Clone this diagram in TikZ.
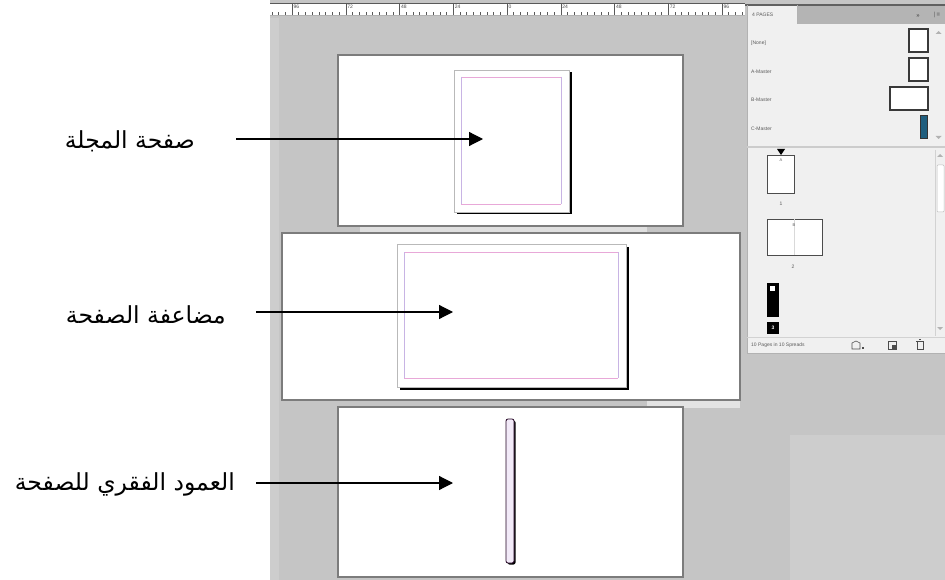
\documentclass[tikz,border=0pt]{standalone}
\usepackage{fontspec}
\newfontfamily\arabicfont[Script=Arabic]{DejaVu Sans}
\newfontfamily\uifont{Liberation Sans}
\TeXXeTstate=1
\usetikzlibrary{arrows.meta}
\definecolor{bggray}{HTML}{C5C5C5}
\definecolor{bglight}{HTML}{CDCDCD}
\definecolor{framegray}{HTML}{7C7C7C}
\definecolor{panelbg}{HTML}{F0F0F0}
\definecolor{panelhead}{HTML}{B4B4B4}
\definecolor{uitext}{HTML}{5A5A5A}
\definecolor{marginpink}{HTML}{E8A8D8}
\definecolor{marginviolet}{HTML}{C8B4E4}
\definecolor{spinefill}{HTML}{F2EAF8}
\definecolor{masterteal}{HTML}{1F5E7E}
\tikzset{
  spreadbox/.style={fill=white,draw=framegray,line width=1.4pt},
  pagebox/.style={fill=white,draw=gray!55,line width=0.6pt},
  shadowbox/.style={fill=black},
  arlabel/.style={font=\arabicfont\fontsize{23.5}{27}\selectfont,inner sep=0pt,anchor=east,text=black},
  pointer/.style={line width=1.2pt,-{Triangle[length=14pt,width=14pt]}},
  uilabel/.style={font=\uifont\fontsize{5}{6}\selectfont,text=uitext,inner sep=0pt},
  iconbox/.style={fill=white,draw=gray!45!black,line width=1.1pt},
  rulernum/.style={font=\uifont\fontsize{5}{6}\selectfont,text=gray!60!black,inner sep=0pt,anchor=north west},
}
\begin{document}
\begin{tikzpicture}[x=1pt,y=-1pt]
\useasboundingbox (0,0) rectangle (945,580);
\fill[white] (0,0) rectangle (945,580);
% work area
\fill[bggray] (270,0) rectangle (945,580);
\fill[bglight] (270,18) rectangle (279,580);
\fill[bglight] (790,435) rectangle (945,580);
% ruler
\fill[white] (270,3) rectangle (745,15);
\draw[gray!70!black,line width=0.6pt] (270,3) -- (745,3);
\draw[gray!60,line width=0.8pt] (270,15.5) -- (745,15.5);
\foreach \k in {-3,...,67} {
  \pgfmathtruncatemacro\m{mod(\k+24,8)}
  \pgfmathsetmacro\xx{292+\k*6.71875}
  \ifnum\m=0
    \draw[gray!70!black,line width=0.5pt] (\xx,3) -- (\xx,15);
  \else
    \draw[gray!70!black,line width=0.5pt] (\xx,12.5) -- (\xx,15);
  \fi
}
\foreach \v [count=\i from 0] in {96,72,48,24,0,24,48,72,96}
  \node[rulernum] (rn\i) at (293.5+\i*53.75,4.5) {\v};
% spreads
\fill[gray!25] (360,223) rectangle (647,233);
\fill[gray!22] (647,399) rectangle (740,408);
\node[spreadbox,minimum width=345pt,minimum height=171pt,inner sep=0pt] (sp1) at (510.5,140.5) {};
\node[spreadbox,minimum width=458pt,minimum height=167pt,inner sep=0pt] (sp2) at (511,316.5) {};
\node[spreadbox,minimum width=345pt,minimum height=170pt,inner sep=0pt] (sp3) at (510.5,492) {};
% page 1
\fill[shadowbox] (456.5,72.5) rectangle (571.5,214.5);
\node[pagebox,minimum width=115pt,minimum height=142pt,inner sep=0pt] (pg1) at (511.5,141) {};
\draw[marginpink,line width=0.7pt] (461,77) -- (561,77) (461,204) -- (561,204);
\draw[marginviolet,line width=0.7pt] (461,77) -- (461,204) (561,77) -- (561,204);
% page 2
\fill[shadowbox] (399.5,246.5) rectangle (628.5,389.5);
\node[pagebox,minimum width=229pt,minimum height=143pt,inner sep=0pt] (pg2) at (511.5,315.5) {};
\draw[marginpink,line width=0.7pt] (404,252) -- (618,252) (404,378) -- (618,378);
\draw[marginviolet,line width=0.7pt] (404,252) -- (404,378) (618,252) -- (618,378);
% spine page
\fill[shadowbox,rounded corners=2pt] (507.5,420.5) rectangle (515.5,564.5);
\node[fill=spinefill,draw=black!75!violet,line width=0.8pt,rounded corners=2pt,minimum width=8pt,minimum height=144pt,inner sep=0pt] (pg3) at (510,491) {};
% labels and pointers
\node[arlabel] (l1) at (195,141) {\beginR صفحة المجلة\endR};
\node[arlabel] (l2) at (226,315) {\beginR مضاعفة الصفحة\endR};
\node[arlabel] (l3) at (235,484) {\beginR العمود الفقري للصفحة\endR};
\coordinate (s1) at (236,139);
\coordinate (t1) at (483,139);
\coordinate (s2) at (256,312);
\coordinate (t2) at (453,312);
\coordinate (s3) at (256,483);
\coordinate (t3) at (453,483);
\draw[pointer] (s1) -- (t1);
\draw[pointer] (s2) -- (t2);
\draw[pointer] (s3) -- (t3);
% pages panel
\fill[panelbg] (747,5) rectangle (945,353);
\fill[panelhead] (797,5) rectangle (945,24);
\draw[gray!75!black,line width=1.5pt] (745,5) -- (945,5);
\draw[gray!60,line width=0.8pt] (747,5) -- (747,353) -- (945,353);
\draw[gray!60,line width=0.5pt] (797,5) -- (797,24);
\node[uilabel,anchor=west] (tab) at (752,15) {4 PAGES};
\node[uilabel,anchor=center,font=\uifont\bfseries\fontsize{6}{7}\selectfont] (dbl) at (918,16) {»};
\node[uilabel,anchor=center,font=\uifont\fontsize{6}{7}\selectfont] (menu) at (937,15) {|\,≡};
\node[uilabel,anchor=west] (m0) at (751,43) {[None]};
\node[uilabel,anchor=west] (m1) at (751,72) {A-Master};
\node[uilabel,anchor=west] (m2) at (751,100) {B-Master};
\node[uilabel,anchor=west] (m3) at (751,129) {C-Master};
\node[iconbox,minimum width=19pt,minimum height=23pt,inner sep=0pt] (i0) at (918.5,40.5) {};
\node[iconbox,minimum width=19pt,minimum height=23pt,inner sep=0pt] (i1) at (918.5,69.5) {};
\node[iconbox,minimum width=38pt,minimum height=23pt,inner sep=0pt] (i2) at (909,98.5) {};
\node[fill=masterteal,draw=gray!40!black,line width=0.6pt,minimum width=7pt,minimum height=23pt,inner sep=0pt] (i3) at (923.5,126.5) {};
\fill[gray!60] (938.5,31) -- (941.5,34) -- (935.5,34) -- cycle;
\fill[gray!60] (938.5,139) -- (941.5,136) -- (935.5,136) -- cycle;
\draw[gray!40,line width=2pt] (747,147) -- (945,147);
% page icons
\node[iconbox,line width=0.9pt,draw=gray!60!black,minimum width=27pt,minimum height=38pt,inner sep=0pt] (p1) at (780.5,174) {};
\fill[black] (777,149) -- (785,149) -- (781,155) -- cycle;
\node[uilabel,font=\uifont\fontsize{4}{5}\selectfont] (p1a) at (781,160) {A};
\node[uilabel] (p1n) at (781,204) {1};
\node[iconbox,line width=0.9pt,draw=gray!60!black,minimum width=55pt,minimum height=36pt,inner sep=0pt] (p2) at (794.5,237) {};
\draw[gray!30,line width=0.5pt] (p2.north) -- (p2.south);
\node[uilabel,font=\uifont\fontsize{4}{5}\selectfont] (p2b) at (794,225) {B};
\node[uilabel] (p2n) at (793,267) {2};
\node[fill=black,minimum width=12pt,minimum height=34pt,inner sep=0pt] (p3) at (773,300) {};
\fill[white] (770,286) rectangle (775,291);
\node[fill=black,text=white,font=\uifont\bfseries\fontsize{5}{6}\selectfont,minimum width=12pt,minimum height=12pt,inner sep=0pt] (p3n) at (773,328) {3};
\draw[gray!35,line width=0.8pt] (935,150) -- (935,336);
\fill[gray!60] (940,154) -- (943,157) -- (937,157) -- cycle;
\draw[gray!50,fill=white,rounded corners=1pt,line width=0.5pt] (937,165) rectangle (944,212);
\fill[gray!60] (940,330) -- (943,327) -- (937,327) -- cycle;
\draw[gray!35,line width=1pt] (747,337) -- (945,337);
\node[uilabel,anchor=west] (foot) at (751,345) {10 Pages in 10 Spreads};
% footer icons
\draw[gray!60!black,line width=0.6pt] (852,349) -- (852,343) -- (856,341) -- (860,343) -- (860,349) -- cycle;
\fill[gray!60!black] (862,347) rectangle (864,349);
\draw[gray!60!black,line width=0.6pt] (888,341) rectangle (896,349);
\fill[gray!60!black] (892,345) rectangle (896,349);
\draw[gray!60!black,line width=0.6pt] (917,342) -- (917,349) -- (923,349) -- (923,342);
\draw[gray!60!black,line width=0.8pt] (916,341.5) -- (924,341.5);
\draw[gray!60!black,line width=0.5pt] (919,339.5) -- (921,339.5);
\end{tikzpicture}
\end{document}
